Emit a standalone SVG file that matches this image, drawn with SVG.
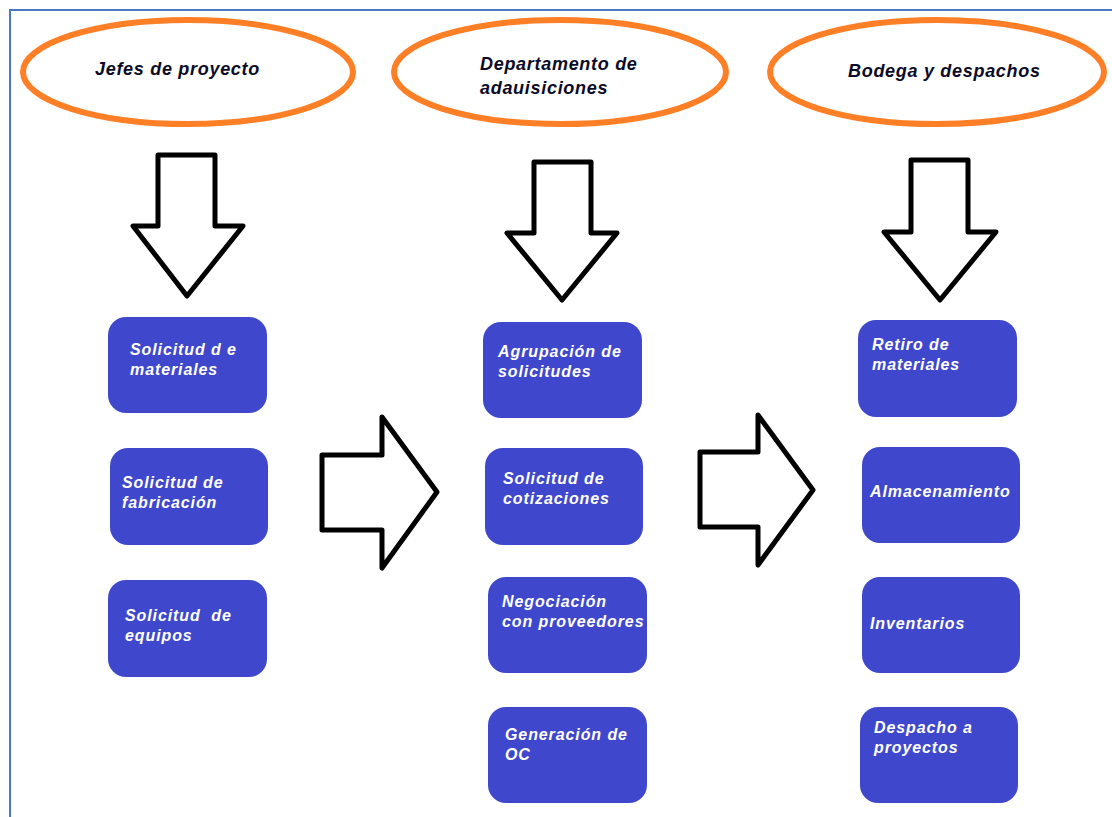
<svg xmlns="http://www.w3.org/2000/svg" width="1112" height="817" viewBox="0 0 1112 817">
<style>
.frame{stroke:#4a78c2;stroke-width:2;fill:none}
.oval{fill:#fff;stroke:#ff7f27;stroke-width:6}
.head{font-family:"Liberation Sans",Arial,sans-serif;font-weight:bold;font-style:italic;font-size:18px;fill:#0b0b28;letter-spacing:0.7px}
.box{fill:#3f48cc}
.lbl{font-family:"Liberation Sans",Arial,sans-serif;font-weight:bold;font-style:italic;font-size:16px;fill:#ffffff;letter-spacing:0.9px;white-space:pre}
.arr{fill:#fff;stroke:#000;stroke-width:5;stroke-linejoin:round}
</style>
<rect width="1112" height="817" fill="#fff"/>
<path class="frame" d="M10,817 V10 H1112"/>

<g id="head-jefes">
<ellipse class="oval" cx="188" cy="72" rx="165" ry="52"/>
<text class="head" x="95" y="75">Jefes de proyecto</text>
</g>
<g id="head-adq">
<ellipse class="oval" cx="560" cy="72" rx="166" ry="52"/>
<text class="head" x="480" y="70">Departamento de</text>
<text class="head" x="480" y="94">adauisiciones</text>
</g>
<g id="head-bodega">
<ellipse class="oval" cx="937" cy="72" rx="167" ry="52"/>
<text class="head" x="848" y="77">Bodega y despachos</text>
</g>

<g id="connectors">
<path class="arr" d="M158,155 H215 V226 H243 L187,296 L133,226 H158 Z"/>
<path class="arr" d="M534,162 H591 V233 H617 L562,300 L507,233 H534 Z"/>
<path class="arr" d="M911,160 H968 V232 H996 L940,300 L884,232 H911 Z"/>
<path class="arr" d="M322,455 H382 V417 L437,492 L382,568 V530 H322 Z"/>
<path class="arr" d="M700,452 H758 V415 L813,490 L758,565 V527 H700 Z"/>
</g>

<g id="n-sol-mat"><rect class="box" x="108" y="317" width="159" height="96" rx="18"/><text class="lbl" x="130" y="355">Solicitud d e</text><text class="lbl" x="130" y="375">materiales</text></g>
<g id="n-sol-fab"><rect class="box" x="110" y="448" width="158" height="97" rx="18"/><text class="lbl" x="122" y="488">Solicitud de</text><text class="lbl" x="122" y="508">fabricación</text></g>
<g id="n-sol-eq"><rect class="box" x="108" y="580" width="159" height="97" rx="18"/><text class="lbl" x="125" y="621" xml:space="preserve">Solicitud  de</text><text class="lbl" x="125" y="641">equipos</text></g>

<g id="n-agr"><rect class="box" x="483" y="322" width="159" height="96" rx="18"/><text class="lbl" x="498" y="357">Agrupación de</text><text class="lbl" x="498" y="377">solicitudes</text></g>
<g id="n-cot"><rect class="box" x="485" y="448" width="158" height="97" rx="18"/><text class="lbl" x="503" y="484">Solicitud de</text><text class="lbl" x="503" y="504">cotizaciones</text></g>
<g id="n-neg"><rect class="box" x="488" y="577" width="159" height="96" rx="18"/><text class="lbl" x="502" y="607">Negociación</text><text class="lbl" x="502" y="627">con proveedores</text></g>
<g id="n-oc"><rect class="box" x="488" y="707" width="159" height="96" rx="18"/><text class="lbl" x="505" y="740">Generación de</text><text class="lbl" x="505" y="760">OC</text></g>

<g id="n-ret"><rect class="box" x="858" y="320" width="159" height="97" rx="18"/><text class="lbl" x="872" y="350">Retiro de</text><text class="lbl" x="872" y="370">materiales</text></g>
<g id="n-alm"><rect class="box" x="862" y="447" width="158" height="96" rx="18"/><text class="lbl" x="870" y="497">Almacenamiento</text></g>
<g id="n-inv"><rect class="box" x="862" y="577" width="158" height="96" rx="18"/><text class="lbl" x="870" y="629">Inventarios</text></g>
<g id="n-desp"><rect class="box" x="860" y="707" width="158" height="96" rx="18"/><text class="lbl" x="874" y="733">Despacho a</text><text class="lbl" x="874" y="753">proyectos</text></g>
</svg>
